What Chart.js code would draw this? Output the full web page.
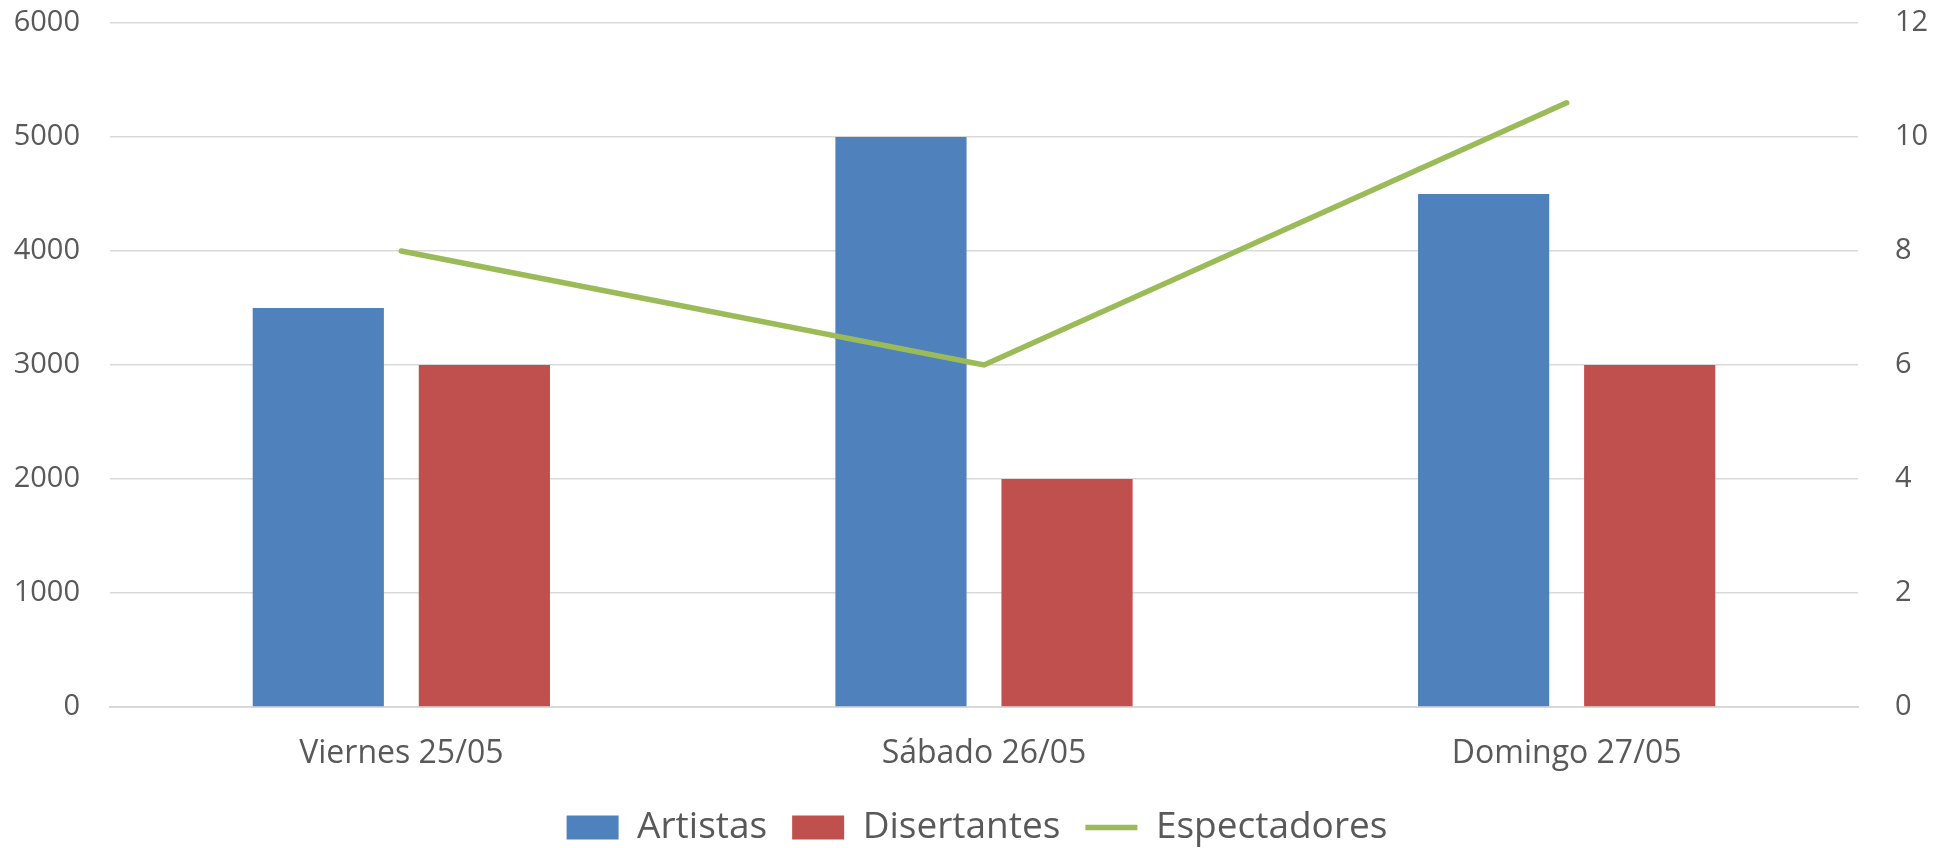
<!DOCTYPE html>
<html>
<head>
<meta charset="utf-8">
<script src="https://cdn.jsdelivr.net/npm/chart.js@4"></script>
<style>
  html, body { margin: 0; padding: 0; background: #fff; }
  #wrap { width: 1954px; height: 848px; }
</style>
</head>
<body>
<div id="wrap"><canvas id="myChart"></canvas></div>
<script>
const labels = ["Viernes 25/05", "Sábado 26/05", "Domingo 27/05"];
const artistas = [3500, 5000, 4500];
const disertantes = [3000, 2000, 3000];
const espectadores = [8, 6, 10.6];
const leftTicks = [0, 1000, 2000, 3000, 4000, 5000, 6000];
const rightTicks = [0, 2, 4, 6, 8, 10, 12];

const textColor = "#595959";
const gridColor = "#d9d9d9";
const font = "'Open Sans', sans-serif";

const ctx = document.getElementById("myChart");

new Chart(ctx, {
  type: "bar",
  data: {
    labels: labels,
    datasets: [
      {
        label: "Artistas",
        data: artistas,
        backgroundColor: "#4f81bd",
        borderWidth: 0,
        yAxisID: "y",
        order: 2,
      },
      {
        label: "Disertantes",
        data: disertantes,
        backgroundColor: "#c0504d",
        borderWidth: 0,
        yAxisID: "y",
        order: 2,
      },
      {
        type: "line",
        label: "Espectadores",
        data: espectadores,
        borderColor: "#9bbb59",
        backgroundColor: "#9bbb59",
        borderWidth: 5.5,
        borderCapStyle: "round",
        pointRadius: 0,
        tension: 0,
        yAxisID: "y1",
        order: 1,
      },
    ],
  },
  options: {
    responsive: true,
    maintainAspectRatio: false,
    animation: false,
    datasets: {
      bar: { categoryPercentage: 0.57, barPercentage: 0.79 },
    },
    layout: { padding: { top: 0, bottom: -8, left: 0, right: 0 } },
    plugins: {
      tooltip: { enabled: false },
      legend: {
        position: "bottom",
        labels: {
          color: textColor,
          font: { family: font, size: 37 },
          padding: 25,
          usePointStyle: true,
          pointStyleWidth: 52,
          boxHeight: 24,
          sort: (a, b) => a.datasetIndex - b.datasetIndex,
          generateLabels: (chart) => {
            const items = Chart.defaults.plugins.legend.labels.generateLabels(chart);
            items.forEach((it) => {
              it.pointStyle = chart.data.datasets[it.datasetIndex].type === "line" ? "line" : "rect";
            });
            return items;
          },
        },
      },
    },
    scales: {
      x: {
        grid: { display: false, drawTicks: false },
        border: { display: true, color: gridColor, width: 2 },
        ticks: {
          color: textColor,
          font: { family: font, size: 32 },
          padding: 28,
          maxRotation: 0,
        },
        afterFit: (scale) => { scale.height = 77; },
      },
      y: {
        position: "left",
        min: 0,
        max: 6000,
        afterBuildTicks: (scale) => { scale.ticks = leftTicks.map((v) => ({ value: v })); },
        grid: { color: gridColor, lineWidth: 1.5, drawTicks: false },
        border: { display: false },
        ticks: {
          color: textColor,
          font: { family: font, size: 29 },
          padding: 30,
          callback: (v) => String(v),
        },
        afterFit: (scale) => {
          scale.width = 110;
          scale.paddingTop = 23;
          scale.paddingBottom = 0;
        },
      },
      y1: {
        position: "right",
        min: 0,
        max: 12,
        afterBuildTicks: (scale) => { scale.ticks = rightTicks.map((v) => ({ value: v })); },
        grid: { display: false, drawTicks: false },
        border: { display: false },
        ticks: {
          color: textColor,
          font: { family: font, size: 29 },
          padding: 37,
          callback: (v) => String(v),
        },
        afterFit: (scale) => {
          scale.width = 96;
          scale.paddingTop = 23;
          scale.paddingBottom = 0;
        },
      },
    },
  },
});
</script>
</body>
</html>
